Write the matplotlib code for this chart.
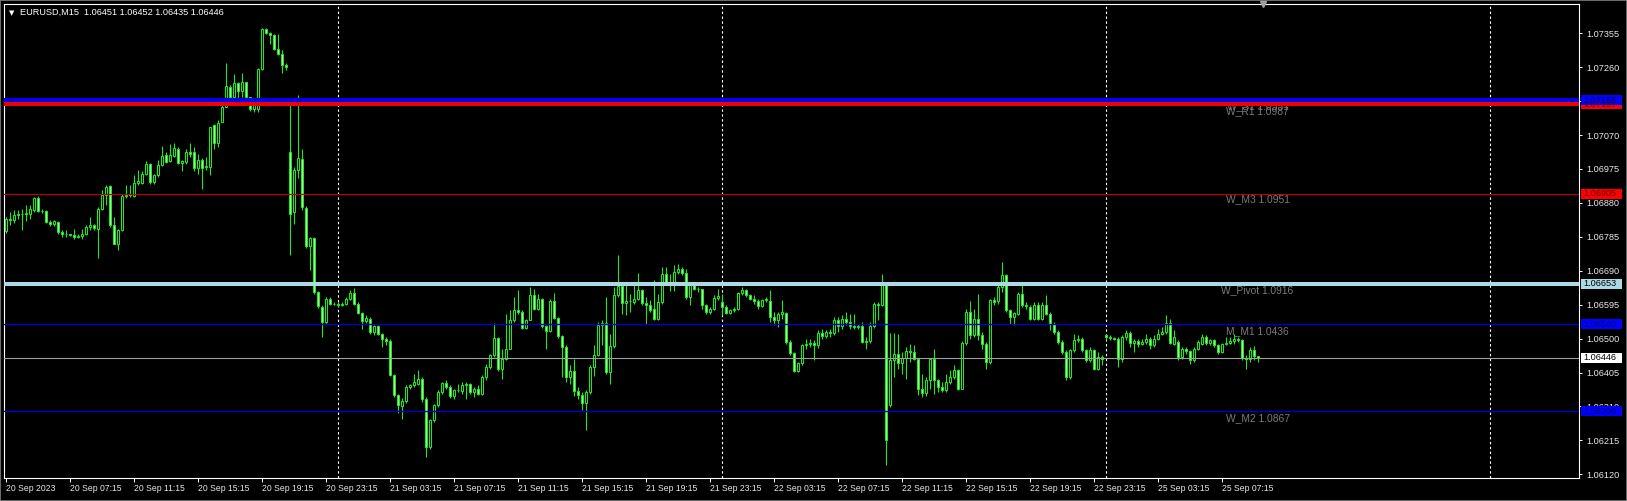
import matplotlib
matplotlib.use("Agg")
import numpy as np
import matplotlib.pyplot as plt
from matplotlib.patches import Rectangle
from matplotlib import transforms as mtrans

plt.rcParams['font.family'] = ['Liberation Sans', 'DejaVu Sans']

# %% Data: EURUSD M15, bars from 20 Sep 2023 03:15

opens = [
    1.06800, 1.06834, 1.06832, 1.06846, 1.06850, 1.06850, 1.06850, 1.06860, 1.06895, 1.06858,
    1.06856, 1.06827, 1.06820, 1.06827, 1.06799, 1.06794, 1.06794, 1.06791, 1.06785, 1.06787,
    1.06794, 1.06813, 1.06818, 1.06807, 1.06864, 1.06901, 1.06927, 1.06817, 1.06766, 1.06803,
    1.06900, 1.06901, 1.06898, 1.06936, 1.06936, 1.06962, 1.06988, 1.06939, 1.06957, 1.06986,
    1.07013, 1.06998, 1.07011, 1.07031, 1.06992, 1.06995, 1.07024, 1.07022, 1.06979, 1.07000,
    1.06980, 1.06980, 1.07097, 1.07048, 1.07106, 1.07150, 1.07206, 1.07178, 1.07217, 1.07193,
    1.07218, 1.07176, 1.07144, 1.07144, 1.07256, 1.07368, 1.07356, 1.07349, 1.07312, 1.07298,
    1.07267, 1.07022, 1.06855, 1.06973, 1.07004, 1.06867, 1.06759, 1.06783, 1.06631, 1.06589,
    1.06547, 1.06612, 1.06598, 1.06598, 1.06595, 1.06598, 1.06612, 1.06629, 1.06598, 1.06572,
    1.06550, 1.06556, 1.06519, 1.06534, 1.06514, 1.06500, 1.06493, 1.06399, 1.06341, 1.06311,
    1.06326, 1.06365, 1.06369, 1.06374, 1.06388, 1.06332, 1.06197, 1.06273, 1.06313, 1.06351,
    1.06376, 1.06365, 1.06338, 1.06355, 1.06353, 1.06369, 1.06372, 1.06351, 1.06360, 1.06346,
    1.06393, 1.06421, 1.06453, 1.06503, 1.06414, 1.06444, 1.06472, 1.06553, 1.06579, 1.06574,
    1.06531, 1.06553, 1.06623, 1.06584, 1.06612, 1.06534, 1.06521, 1.06604, 1.06559, 1.06507,
    1.06477, 1.06393, 1.06409, 1.06353, 1.06341, 1.06320, 1.06351, 1.06421, 1.06453, 1.06537,
    1.06543, 1.06407, 1.06479, 1.06623, 1.06646, 1.06600, 1.06604, 1.06603, 1.06610, 1.06635,
    1.06600, 1.06595, 1.06582, 1.06556, 1.06603, 1.06682, 1.06659, 1.06656, 1.06687, 1.06696,
    1.06684, 1.06617, 1.06649, 1.06640, 1.06638, 1.06593, 1.06575, 1.06584, 1.06615, 1.06603,
    1.06589, 1.06572, 1.06580, 1.06584, 1.06628, 1.06635, 1.06621, 1.06612, 1.06605, 1.06591,
    1.06609, 1.06605, 1.06561, 1.06551, 1.06570, 1.06572, 1.06491, 1.06460, 1.06410, 1.06431,
    1.06481, 1.06486, 1.06488, 1.06481, 1.06516, 1.06507, 1.06519, 1.06516, 1.06553, 1.06535,
    1.06556, 1.06547, 1.06535, 1.06532, 1.06535, 1.06491, 1.06493, 1.06535, 1.06596, 1.06594,
    1.06651, 1.06313, 1.06441, 1.06458, 1.06432, 1.06446, 1.06465, 1.06463, 1.06444, 1.06360,
    1.06348, 1.06383, 1.06444, 1.06383, 1.06365, 1.06355, 1.06379, 1.06393, 1.06411, 1.06360,
    1.06488, 1.06575, 1.06509, 1.06556, 1.06509, 1.06486, 1.06435, 1.06607, 1.06605, 1.06645,
    1.06679, 1.06579, 1.06561, 1.06570, 1.06626, 1.06593, 1.06589, 1.06556, 1.06595, 1.06556,
    1.06595, 1.06570, 1.06542, 1.06519, 1.06491, 1.06463, 1.06393, 1.06467, 1.06495, 1.06500,
    1.06467, 1.06439, 1.06467, 1.06416, 1.06449, 1.06509, 1.06505, 1.06502, 1.06500, 1.06444,
    1.06505, 1.06517, 1.06489, 1.06493, 1.06486, 1.06491, 1.06500, 1.06481, 1.06500, 1.06514,
    1.06519, 1.06545, 1.06486, 1.06491, 1.06449, 1.06472, 1.06465, 1.06439, 1.06472, 1.06486,
    1.06505, 1.06488, 1.06495, 1.06483, 1.06463, 1.06484, 1.06489, 1.06493, 1.06498, 1.06496,
    1.06446, 1.06444, 1.06467, 1.06451,
]

highs = [
    1.06841, 1.06855, 1.06859, 1.06859, 1.06864, 1.06873, 1.06873, 1.06897, 1.06899, 1.06864,
    1.06859, 1.06831, 1.06831, 1.06830, 1.06803, 1.06803, 1.06794, 1.06808, 1.06794, 1.06808,
    1.06817, 1.06841, 1.06820, 1.06869, 1.06915, 1.06929, 1.06929, 1.06841, 1.06808, 1.06906,
    1.06929, 1.06929, 1.06957, 1.06971, 1.06968, 1.06997, 1.06992, 1.06962, 1.06999, 1.07039,
    1.07024, 1.07046, 1.07049, 1.07036, 1.07001, 1.07032, 1.07048, 1.07036, 1.07018, 1.07005,
    1.07009, 1.07094, 1.07102, 1.07111, 1.07153, 1.07273, 1.07209, 1.07242, 1.07219, 1.07244,
    1.07220, 1.07178, 1.07160, 1.07258, 1.07370, 1.07371, 1.07358, 1.07354, 1.07354, 1.07307,
    1.07272, 1.07153, 1.06980, 1.07181, 1.07030, 1.06870, 1.06785, 1.06785, 1.06634, 1.06593,
    1.06617, 1.06617, 1.06603, 1.06603, 1.06603, 1.06617, 1.06635, 1.06643, 1.06603, 1.06575,
    1.06565, 1.06561, 1.06539, 1.06537, 1.06516, 1.06505, 1.06498, 1.06402, 1.06346, 1.06335,
    1.06369, 1.06374, 1.06402, 1.06412, 1.06393, 1.06337, 1.06276, 1.06318, 1.06355, 1.06379,
    1.06383, 1.06370, 1.06360, 1.06374, 1.06379, 1.06379, 1.06376, 1.06365, 1.06369, 1.06397,
    1.06430, 1.06458, 1.06545, 1.06505, 1.06472, 1.06570, 1.06579, 1.06617, 1.06635, 1.06579,
    1.06556, 1.06645, 1.06640, 1.06626, 1.06615, 1.06539, 1.06610, 1.06629, 1.06561, 1.06510,
    1.06481, 1.06425, 1.06444, 1.06364, 1.06351, 1.06355, 1.06425, 1.06481, 1.06547, 1.06551,
    1.06617, 1.06514, 1.06645, 1.06735, 1.06650, 1.06654, 1.06626, 1.06650, 1.06683, 1.06640,
    1.06617, 1.06607, 1.06663, 1.06626, 1.06701, 1.06701, 1.06682, 1.06705, 1.06708, 1.06701,
    1.06696, 1.06654, 1.06654, 1.06645, 1.06640, 1.06598, 1.06589, 1.06621, 1.06640, 1.06626,
    1.06593, 1.06584, 1.06589, 1.06631, 1.06645, 1.06638, 1.06626, 1.06621, 1.06612, 1.06612,
    1.06617, 1.06635, 1.06575, 1.06575, 1.06607, 1.06575, 1.06495, 1.06463, 1.06435, 1.06486,
    1.06500, 1.06500, 1.06495, 1.06523, 1.06528, 1.06523, 1.06528, 1.06561, 1.06561, 1.06565,
    1.06575, 1.06570, 1.06570, 1.06542, 1.06547, 1.06505, 1.06547, 1.06603, 1.06603, 1.06680,
    1.06654, 1.06516, 1.06516, 1.06514, 1.06463, 1.06477, 1.06486, 1.06481, 1.06446, 1.06402,
    1.06393, 1.06446, 1.06472, 1.06387, 1.06379, 1.06402, 1.06411, 1.06425, 1.06416, 1.06493,
    1.06584, 1.06605, 1.06584, 1.06626, 1.06519, 1.06490, 1.06612, 1.06616, 1.06650, 1.06715,
    1.06682, 1.06584, 1.06575, 1.06631, 1.06654, 1.06603, 1.06593, 1.06603, 1.06603, 1.06603,
    1.06621, 1.06575, 1.06547, 1.06523, 1.06495, 1.06467, 1.06472, 1.06514, 1.06509, 1.06505,
    1.06472, 1.06477, 1.06472, 1.06463, 1.06453, 1.06514, 1.06509, 1.06505, 1.06505, 1.06509,
    1.06523, 1.06521, 1.06498, 1.06498, 1.06500, 1.06514, 1.06505, 1.06509, 1.06528, 1.06533,
    1.06565, 1.06556, 1.06523, 1.06495, 1.06477, 1.06477, 1.06467, 1.06477, 1.06495, 1.06514,
    1.06510, 1.06498, 1.06498, 1.06486, 1.06488, 1.06505, 1.06505, 1.06514, 1.06505, 1.06500,
    1.06453, 1.06477, 1.06479, 1.06452,
]

lows = [
    1.06795, 1.06817, 1.06825, 1.06835, 1.06803, 1.06830, 1.06836, 1.06855, 1.06855, 1.06852,
    1.06825, 1.06815, 1.06815, 1.06794, 1.06785, 1.06785, 1.06788, 1.06780, 1.06783, 1.06780,
    1.06790, 1.06803, 1.06803, 1.06726, 1.06859, 1.06873, 1.06813, 1.06764, 1.06749, 1.06800,
    1.06894, 1.06897, 1.06897, 1.06929, 1.06934, 1.06959, 1.06934, 1.06934, 1.06953, 1.06982,
    1.06992, 1.06994, 1.07009, 1.06988, 1.06969, 1.06990, 1.07008, 1.06969, 1.06962, 1.06920,
    1.06971, 1.06957, 1.07032, 1.07036, 1.07106, 1.07148, 1.07153, 1.07174, 1.07172, 1.07176,
    1.07167, 1.07137, 1.07134, 1.07134, 1.07251, 1.07354, 1.07326, 1.07307, 1.07293, 1.07245,
    1.07251, 1.06733, 1.06820, 1.06950, 1.06860, 1.06755, 1.06693, 1.06625, 1.06585, 1.06505,
    1.06542, 1.06593, 1.06593, 1.06589, 1.06590, 1.06593, 1.06607, 1.06593, 1.06570, 1.06526,
    1.06545, 1.06512, 1.06509, 1.06510, 1.06476, 1.06481, 1.06395, 1.06337, 1.06292, 1.06276,
    1.06320, 1.06360, 1.06364, 1.06369, 1.06323, 1.06169, 1.06192, 1.06267, 1.06309, 1.06346,
    1.06360, 1.06334, 1.06332, 1.06350, 1.06346, 1.06332, 1.06346, 1.06337, 1.06341, 1.06341,
    1.06383, 1.06416, 1.06449, 1.06410, 1.06388, 1.06440, 1.06470, 1.06547, 1.06570, 1.06526,
    1.06528, 1.06551, 1.06579, 1.06580, 1.06530, 1.06472, 1.06518, 1.06555, 1.06502, 1.06393,
    1.06379, 1.06374, 1.06339, 1.06332, 1.06300, 1.06243, 1.06346, 1.06395, 1.06450, 1.06481,
    1.06402, 1.06374, 1.06475, 1.06617, 1.06570, 1.06566, 1.06575, 1.06598, 1.06607, 1.06595,
    1.06542, 1.06575, 1.06551, 1.06551, 1.06598, 1.06650, 1.06633, 1.06633, 1.06680, 1.06677,
    1.06612, 1.06593, 1.06635, 1.06631, 1.06584, 1.06570, 1.06570, 1.06580, 1.06607, 1.06565,
    1.06568, 1.06568, 1.06575, 1.06579, 1.06621, 1.06617, 1.06607, 1.06598, 1.06584, 1.06589,
    1.06603, 1.06547, 1.06537, 1.06533, 1.06556, 1.06486, 1.06453, 1.06407, 1.06407, 1.06425,
    1.06472, 1.06477, 1.06439, 1.06475, 1.06500, 1.06502, 1.06505, 1.06510, 1.06519, 1.06528,
    1.06537, 1.06528, 1.06526, 1.06528, 1.06488, 1.06472, 1.06488, 1.06530, 1.06551, 1.06590,
    1.06145, 1.06309, 1.06393, 1.06416, 1.06402, 1.06388, 1.06435, 1.06439, 1.06341, 1.06337,
    1.06339, 1.06360, 1.06346, 1.06351, 1.06350, 1.06351, 1.06374, 1.06388, 1.06355, 1.06360,
    1.06481, 1.06500, 1.06505, 1.06495, 1.06472, 1.06416, 1.06430, 1.06593, 1.06598, 1.06631,
    1.06575, 1.06542, 1.06537, 1.06565, 1.06589, 1.06584, 1.06551, 1.06551, 1.06551, 1.06551,
    1.06565, 1.06523, 1.06514, 1.06486, 1.06458, 1.06383, 1.06388, 1.06463, 1.06491, 1.06463,
    1.06435, 1.06435, 1.06411, 1.06411, 1.06425, 1.06495, 1.06495, 1.06495, 1.06421, 1.06435,
    1.06495, 1.06477, 1.06463, 1.06477, 1.06481, 1.06486, 1.06472, 1.06477, 1.06495, 1.06510,
    1.06514, 1.06486, 1.06481, 1.06440, 1.06444, 1.06458, 1.06430, 1.06435, 1.06467, 1.06481,
    1.06481, 1.06481, 1.06477, 1.06458, 1.06460, 1.06481, 1.06486, 1.06486, 1.06491, 1.06440,
    1.06416, 1.06435, 1.06439, 1.06435,
]

closes = [
    1.06834, 1.06832, 1.06846, 1.06850, 1.06850, 1.06852, 1.06862, 1.06894, 1.06858, 1.06856,
    1.06827, 1.06820, 1.06828, 1.06799, 1.06794, 1.06794, 1.06791, 1.06785, 1.06787, 1.06794,
    1.06813, 1.06818, 1.06810, 1.06864, 1.06901, 1.06924, 1.06817, 1.06766, 1.06803, 1.06900,
    1.06901, 1.06904, 1.06936, 1.06940, 1.06962, 1.06988, 1.06939, 1.06957, 1.06986, 1.07012,
    1.06996, 1.07013, 1.07033, 1.06992, 1.06997, 1.07024, 1.07018, 1.06979, 1.07000, 1.06979,
    1.06982, 1.07092, 1.07048, 1.07104, 1.07150, 1.07207, 1.07176, 1.07217, 1.07193, 1.07218,
    1.07176, 1.07144, 1.07154, 1.07256, 1.07368, 1.07356, 1.07349, 1.07312, 1.07298, 1.07267,
    1.07262, 1.06850, 1.06973, 1.07005, 1.06869, 1.06759, 1.06783, 1.06631, 1.06590, 1.06547,
    1.06612, 1.06598, 1.06598, 1.06595, 1.06598, 1.06612, 1.06629, 1.06598, 1.06572, 1.06550,
    1.06558, 1.06519, 1.06534, 1.06514, 1.06500, 1.06493, 1.06399, 1.06341, 1.06313, 1.06326,
    1.06365, 1.06369, 1.06379, 1.06388, 1.06332, 1.06197, 1.06273, 1.06313, 1.06351, 1.06376,
    1.06365, 1.06338, 1.06355, 1.06357, 1.06369, 1.06372, 1.06351, 1.06360, 1.06346, 1.06393,
    1.06421, 1.06453, 1.06503, 1.06414, 1.06444, 1.06472, 1.06553, 1.06579, 1.06575, 1.06531,
    1.06553, 1.06623, 1.06584, 1.06612, 1.06534, 1.06521, 1.06604, 1.06559, 1.06507, 1.06477,
    1.06393, 1.06409, 1.06353, 1.06341, 1.06320, 1.06351, 1.06421, 1.06453, 1.06537, 1.06543,
    1.06407, 1.06479, 1.06623, 1.06646, 1.06600, 1.06604, 1.06604, 1.06610, 1.06635, 1.06600,
    1.06595, 1.06581, 1.06556, 1.06603, 1.06682, 1.06659, 1.06656, 1.06687, 1.06696, 1.06684,
    1.06617, 1.06649, 1.06640, 1.06638, 1.06593, 1.06575, 1.06584, 1.06615, 1.06619, 1.06589,
    1.06572, 1.06580, 1.06584, 1.06628, 1.06635, 1.06621, 1.06612, 1.06605, 1.06591, 1.06609,
    1.06612, 1.06561, 1.06551, 1.06570, 1.06575, 1.06491, 1.06460, 1.06410, 1.06431, 1.06481,
    1.06486, 1.06488, 1.06481, 1.06516, 1.06507, 1.06519, 1.06516, 1.06553, 1.06535, 1.06556,
    1.06547, 1.06535, 1.06532, 1.06535, 1.06491, 1.06493, 1.06535, 1.06596, 1.06594, 1.06651,
    1.06215, 1.06441, 1.06458, 1.06432, 1.06446, 1.06465, 1.06463, 1.06444, 1.06360, 1.06348,
    1.06383, 1.06444, 1.06383, 1.06365, 1.06355, 1.06379, 1.06393, 1.06411, 1.06360, 1.06488,
    1.06575, 1.06509, 1.06556, 1.06509, 1.06486, 1.06435, 1.06607, 1.06603, 1.06645, 1.06679,
    1.06579, 1.06561, 1.06573, 1.06626, 1.06593, 1.06591, 1.06556, 1.06595, 1.06556, 1.06595,
    1.06570, 1.06542, 1.06519, 1.06491, 1.06463, 1.06393, 1.06467, 1.06495, 1.06500, 1.06467,
    1.06439, 1.06467, 1.06416, 1.06449, 1.06444, 1.06505, 1.06502, 1.06500, 1.06444, 1.06505,
    1.06517, 1.06489, 1.06493, 1.06486, 1.06491, 1.06500, 1.06481, 1.06500, 1.06514, 1.06519,
    1.06545, 1.06489, 1.06505, 1.06449, 1.06472, 1.06465, 1.06439, 1.06472, 1.06491, 1.06505,
    1.06488, 1.06495, 1.06483, 1.06463, 1.06484, 1.06489, 1.06493, 1.06498, 1.06496, 1.06446,
    1.06444, 1.06467, 1.06451, 1.06446,
]

# time axis: bar index of each label and the label itself
time_label_bars = [0, 16, 32, 48, 64, 80, 96, 112, 128, 144,
                   160, 176, 192, 208, 224, 240, 256, 272, 288, 304]
time_labels = ["20 Sep 2023", "20 Sep 07:15", "20 Sep 11:15", "20 Sep 15:15",
               "20 Sep 19:15", "20 Sep 23:15", "21 Sep 03:15", "21 Sep 07:15",
               "21 Sep 11:15", "21 Sep 15:15", "21 Sep 19:15", "21 Sep 23:15",
               "22 Sep 03:15", "22 Sep 07:15", "22 Sep 11:15", "22 Sep 15:15",
               "22 Sep 19:15", "22 Sep 23:15", "25 Sep 03:15", "25 Sep 07:15"]

# day separators (bar index of midnight)
separator_bars = [83, 179, 275, 371]

# price scale (1.07165 sits fully under the 1.07168 box, so it shows no label)
price_ticks = [1.06120, 1.06215, 1.06310, 1.06405, 1.06500, 1.06595, 1.06690,
               1.06785, 1.06880, 1.06975, 1.07070, 1.07165, 1.07260, 1.07355]
price_tick_labels = ["1.06120", "1.06215", "1.06310", "1.06405", "1.06500", "1.06595",
                     "1.06690", "1.06785", "1.06880", "1.06975", "1.07070", "",
                     "1.07260", "1.07355"]

# horizontal level lines
level_prices = [1.07157, 1.07168, 1.06905, 1.06653, 1.06540, 1.06446, 1.06296]
level_names = ["W_R1 1.0987", "W_S1 1.0531", "W_M3 1.0951", "W_Pivot 1.0916",
               "M_M1 1.0436", "", "W_M2 1.0867"]

title = "EURUSD,M15  1.06451 1.06452 1.06435 1.06446"

# %% Styles
W, H = 1627, 501
GREEN = '#1fe81f'
BEAR_FILL = '#a8f5a8'
line_colors = ['#f00000', '#0000f0', '#c00000', '#add8e6', '#0000c8', '#a0a0a0', '#0000c8']
line_widths = [2.9, 2.9, 0.8, 2.9, 1.0, 0.8, 1.0]          # points
box_colors = ['#ff0000', '#0000ff', '#ff0000', '#add8e6', '#0000ff', '#ffffff', '#0000ff']
box_text = ['#700000', '#000070', '#700000', '#000000', '#000070', '#000000', '#000070']
name_offsets = [-7, -6, -5, -6, -6.5, 0, -6.5]              # pixels, text centre below line

fig = plt.figure(figsize=(W / 100, H / 100), dpi=100, facecolor='black')
ax = fig.add_axes([4 / W, (H - 478) / H, 1575 / W, 474 / H], facecolor='black')
ax.set_xlim(-0.375, 393.375)
ax.set_ylim(1.061096, 1.074371)
px = (1.074371 - 1.061096) / 474   # price per pixel

# %% Candles
x = np.arange(len(closes))
o = np.array(opens)
h = np.array(highs)
l = np.array(lows)
c = np.array(closes)
bull = c >= o
ax.vlines(x, l, h, color=GREEN, lw=0.8, zorder=3)
ax.bar(x, np.abs(c - o), bottom=np.minimum(o, c), width=0.5,
       color=np.where(bull, 'black', BEAR_FILL), edgecolor=GREEN,
       linewidth=0.75, zorder=3.2)

# period separators
for b in separator_bars:
    ax.axvline(b, color='white', lw=0.8, ls=(0, (2.2, 2.2)), zorder=1)

# %% Level lines, names and price boxes
blend = mtrans.blended_transform_factory(ax.transAxes, ax.transData)
for i, p in enumerate(level_prices):
    ax.axhline(p, color=line_colors[i], lw=line_widths[i], zorder=4)
    if level_names[i]:
        tr = mtrans.offset_copy(ax.transData, fig=fig, y=name_offsets[i], units='dots')
        ax.text(313, p, level_names[i], transform=tr, ha='center', va='center',
                color='#7a7a7a', fontsize=7.4, zorder=3.6)
    ax.add_patch(Rectangle((1.0013, p - 5 * px), 0.0262, 10 * px, transform=blend,
                           facecolor=box_colors[i], edgecolor='none',
                           clip_on=False, zorder=6 + i * 0.01))
    ax.text(1.0027, p, f"{p:.5f}", transform=blend, ha='left', va='center',
            fontsize=6.6, color=box_text[i], clip_on=False, zorder=6.5 + i * 0.01)

# chart shift marker
ax.plot([314.4], [1.0], marker='v', ms=5, color='#a0a0a0', clip_on=False,
        transform=mtrans.blended_transform_factory(ax.transData, ax.transAxes), zorder=7)

# %% Axes styling
for s in ax.spines.values():
    s.set_color('white')
    s.set_linewidth(0.8)
ax.yaxis.tick_right()
ax.set_yticks(price_ticks)
ax.set_yticklabels(price_tick_labels)
ax.tick_params(axis='y', colors='white', labelcolor='#e8e8e8', length=2.5,
               width=0.7, pad=2.5, labelsize=6.6)
ax.set_xticks(time_label_bars)
ax.set_xticklabels(time_labels)
ax.tick_params(axis='x', colors='white', labelcolor='#e8e8e8', length=3,
               width=0.7, pad=1.5, labelsize=6.2)
for lbl in ax.get_xticklabels():
    lbl.set_ha('left')

# title in the top-left corner
fig.text(9 / W, 1 - 12.7 / H, "\u25bc", color='white', fontsize=5,
         va='center', ha='left', family='DejaVu Sans')
fig.text(20.5 / W, 1 - 12.7 / H, title, color='white', fontsize=6.6,
         va='center', ha='left')

# window frame
fig.add_artist(Rectangle((0, 0), 1, 1, transform=fig.transFigure, fill=False,
                         edgecolor='#808080', lw=1.2))

fig.savefig("out.png", dpi=100, facecolor='black')
